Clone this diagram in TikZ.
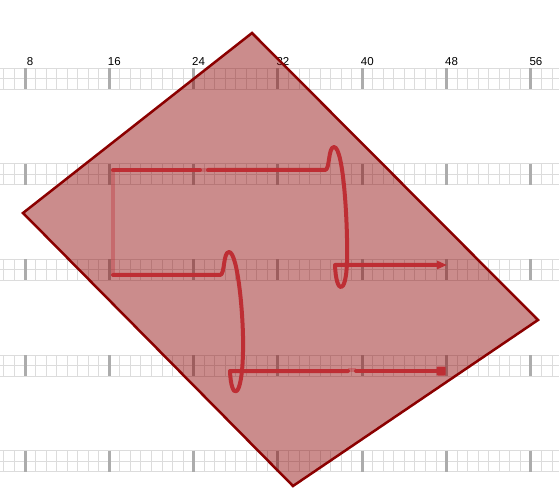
\documentclass[tikz,border=0pt]{standalone}
\usepackage{fontspec}
\setmainfont{Liberation Sans}
\usetikzlibrary{arrows.meta}
\definecolor{strand}{RGB}{190,46,52}
\definecolor{regionred}{RGB}{139,0,0}
\definecolor{gridgray}{RGB}{220,220,220}
\definecolor{tickgray}{RGB}{172,172,172}
\begin{document}
\begin{tikzpicture}[x=1pt,y=-1pt,font=\fontsize{11.5}{12}\selectfont,
  minor/.style={gridgray,line width=1pt},
  major/.style={tickgray,line width=3pt},
  strandline/.style={strand,line width=4pt,line cap=round,line join=round},
  faint/.style={strand,line width=3.5pt,opacity=0.35}]
\useasboundingbox (0,0) rectangle (559,502);
% ruler rows
\foreach \r in {79,174.5,270,365.5,461}{
  \foreach \u in {6,...,58}
    \draw[minor] ({25+(\u-8)*10.54},{\r-10.5}) -- ({25+(\u-8)*10.54},{\r+10.5});
  \foreach \y in {-10.5,0,10.5}
    \draw[minor] (0,{\r+\y}) -- (559,{\r+\y});
  \foreach \u in {8,16,...,56}
    \draw[major] ({25+(\u-8)*10.54},{\r-10.5}) -- ({25+(\u-8)*10.54},{\r+10.5});
}
\foreach \u in {8,16,...,56}
  \node (lab\u) at ({30+(\u-8)*10.54},61.5) {\u};
% region
\draw[regionred,line width=2.5pt,fill=regionred,fill opacity=0.45] (252,33) -- (538,320) -- (293,486) -- (23,213) -- cycle;
% strand
\draw[faint] (113,170) -- (113,275);
\draw[faint] (200,170) -- (208,170);
\draw[faint] (348,370) -- (356,370);
\draw[strandline] (113,170) -- (200,170);
\draw[strandline,-{Triangle[length=10pt,width=8pt]}] (208,170) -- (325,170) .. controls (330,170) and (328,147) .. (334,147) .. controls (344,147) and (348,230) .. (347,262) .. controls (346,296) and (336,294) .. (335,265) -- (447,265);
\draw[strandline] (113,275) -- (220,275) .. controls (225,275) and (223,252) .. (229,252) .. controls (238,252) and (244,320) .. (243,352) .. controls (242,402) and (231,400) .. (230,371) -- (348,371);
\draw[strandline] (356,371) -- (441,371);
\fill[strand,rounded corners=1pt] (436.5,366.5) rectangle (445.5,375.5);
\end{tikzpicture}
\end{document}
